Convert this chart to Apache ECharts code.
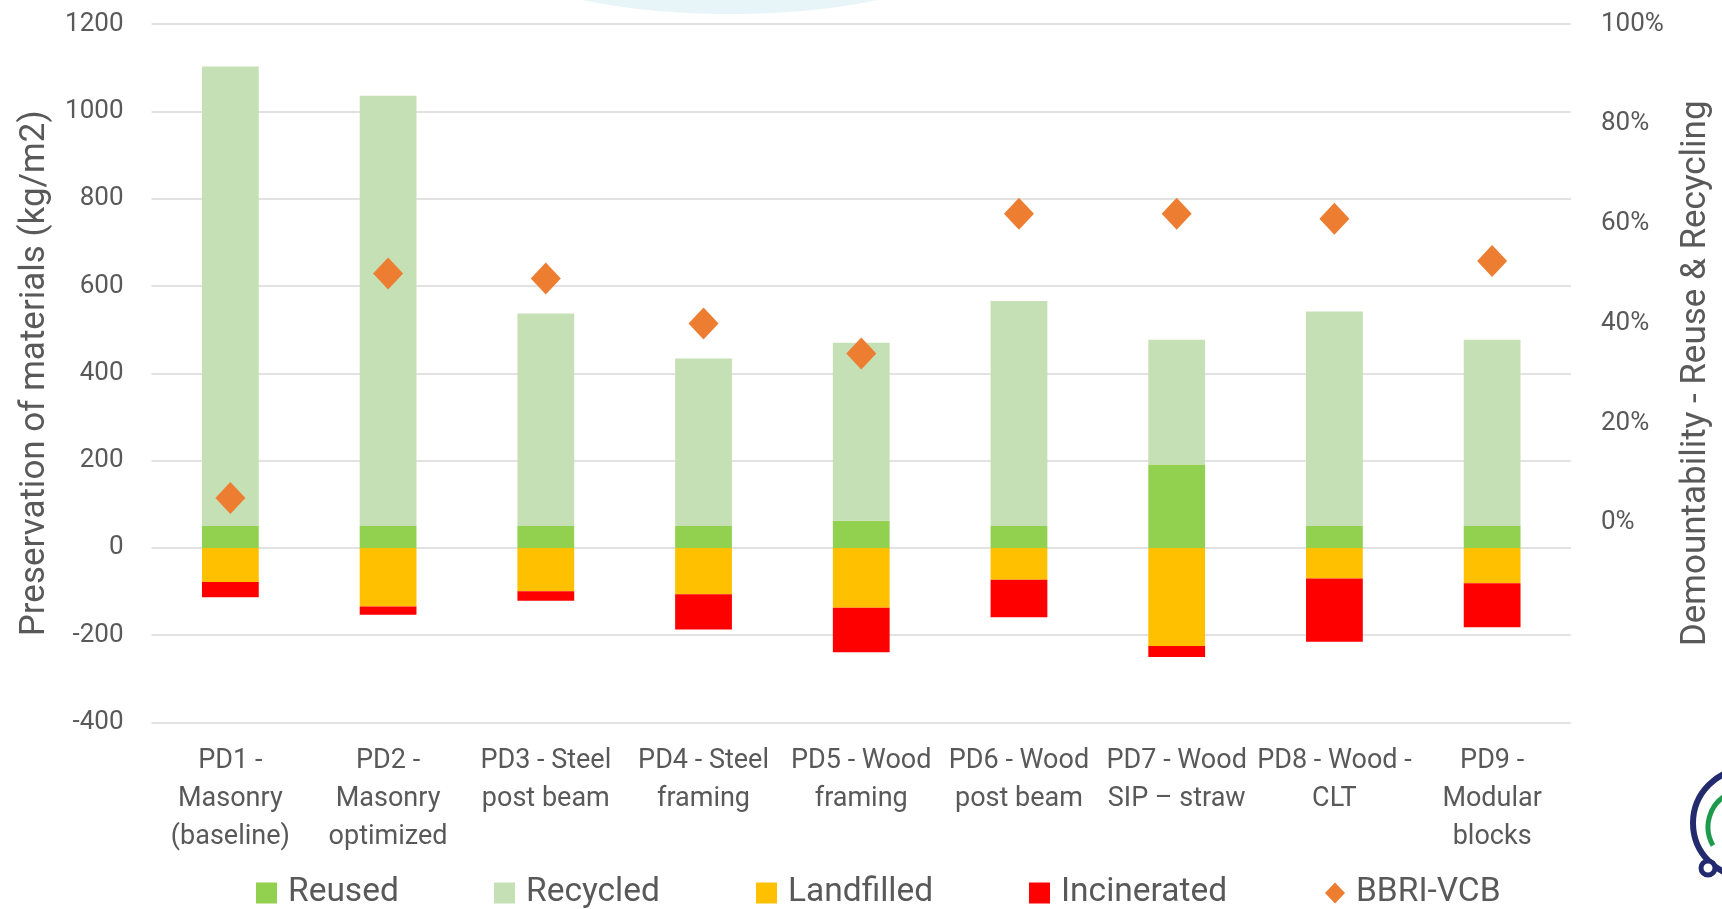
<!DOCTYPE html>
<html>
<head>
<meta charset="utf-8">
<title>Preservation of materials per design</title>
<script src="https://cdn.jsdelivr.net/npm/echarts@6/dist/echarts.min.js"></script>
<style>
  html, body { margin: 0; padding: 0; background: #ffffff; }
  #chart { width: 1722px; height: 909px; }
</style>
</head>
<body>
<div id="chart"></div>
<script>
// Building designs (x axis)
const categories = [
  'PD1 -\nMasonry\n(baseline)',
  'PD2 -\nMasonry\noptimized',
  'PD3 - Steel\npost beam',
  'PD4 - Steel\nframing',
  'PD5 - Wood\nframing',
  'PD6 - Wood\npost beam',
  'PD7 - Wood\nSIP \u2013 straw',
  'PD8 - Wood -\nCLT',
  'PD9 -\nModular\nblocks'
];

// End-of-life material flows, kg/m2 (landfill and incineration shown as negatives)
const reused      = [50, 50, 50, 50, 62, 50, 191, 50, 50];
const recycled    = [1053, 986, 487, 384, 408, 516, 286, 492, 427];
const landfilled  = [-78, -134, -99, -106, -137, -73, -225, -70, -81];
const incinerated = [-35, -19, -22, -81, -102, -86, -25, -145, -101];

// Demountability score (reuse & recycling), %
const bbriVcb = [5, 50, 49, 40, 34, 62, 62, 61, 52.5];

// Axis ticks
const leftTicks  = { min: -400, max: 1200, step: 200 };
const rightTicks = { min: -40, max: 100, step: 20 };

const seriesNames = ['Reused', 'Recycled', 'Landfilled', 'Incinerated', 'BBRI-VCB'];
const colors = {
  Reused: '#92D050',
  Recycled: '#C5E0B4',
  Landfilled: '#FFC000',
  Incinerated: '#FF0000',
  'BBRI-VCB': '#ED7D31'
};

const FONT = 'Roboto, "Noto Sans", sans-serif';
const TEXT = '#595959';

const chart = echarts.init(document.getElementById('chart'), null, { renderer: 'canvas' });

function barSeries(name, data) {
  return {
    name: name,
    type: 'bar',
    stack: 'flows',
    data: data,
    barWidth: '36%',
    itemStyle: { color: colors[name], opacity: 1 },
    emphasis: { disabled: true }
  };
}

// One legend block per entry so each sits at its own position on the baseline
const legendLefts = [256, 494, 756, 1029, 1325];
const legends = seriesNames.map((name, i) => ({
  data: [{ name: name, icon: name === 'BBRI-VCB' ? 'diamond' : 'rect' }],
  left: legendLefts[i],
  top: 876,
  padding: 0,
  itemWidth: name === 'BBRI-VCB' ? 20 : 21,
  itemHeight: 21,
  itemGap: 0,
  selectedMode: false,
  textStyle: { fontFamily: FONT, fontSize: 33.5, color: TEXT, padding: [0, 0, 0, 6] }
}));

const option = {
  animation: false,
  backgroundColor: '#ffffff',
  graphic: [
    {
      type: 'ellipse',
      silent: true,
      z: -10,
      shape: { cx: 730, cy: -46, rx: 230, ry: 60 },
      style: { fill: '#E8F5F8' }
    },
    {
      type: 'circle',
      silent: true,
      shape: { cx: 1747, cy: 823, r: 54 },
      style: { fill: 'none', stroke: '#232B6E', lineWidth: 6 }
    },
    {
      type: 'arc',
      silent: true,
      shape: { cx: 1745, cy: 827, r: 37, startAngle: Math.PI * 150 / 180, endAngle: Math.PI * 300 / 180, clockwise: true },
      style: { fill: 'none', stroke: '#1E9A4C', lineWidth: 5 }
    },
    {
      type: 'circle',
      silent: true,
      shape: { cx: 1708, cy: 868, r: 7 },
      style: { fill: '#ffffff', stroke: '#232B6E', lineWidth: 5 }
    }
  ],
  legend: legends,
  grid: {
    left: 151.5,
    right: 149.4,
    top: 24.2,
    bottom: 186.5
  },
  xAxis: {
    type: 'category',
    data: categories,
    axisLine: { show: false },
    axisTick: { show: false },
    axisLabel: {
      interval: 0,
      margin: 20,
      fontFamily: FONT,
      fontSize: 27,
      lineHeight: 38,
      color: TEXT
    }
  },
  yAxis: [
    {
      type: 'value',
      min: leftTicks.min,
      max: leftTicks.max,
      interval: leftTicks.step,
      name: 'Preservation of materials (kg/m2)',
      nameLocation: 'middle',
      nameRotate: 90,
      nameGap: 99,
      nameTextStyle: { fontFamily: FONT, fontSize: 35, color: TEXT },
      axisLine: { show: false },
      axisTick: { show: false },
      axisLabel: {
        margin: 28,
        fontFamily: FONT,
        fontSize: 26,
        color: TEXT,
        formatter: v => String(v)
      },
      splitLine: { lineStyle: { color: '#D9D9D9', width: 1.5 } }
    },
    {
      type: 'value',
      position: 'right',
      min: rightTicks.min,
      max: rightTicks.max,
      interval: rightTicks.step,
      name: 'Demountability - Reuse & Recycling',
      nameLocation: 'middle',
      nameRotate: 90,
      nameGap: 108,
      nameTextStyle: { fontFamily: FONT, fontSize: 35, color: TEXT },
      axisLine: { show: false },
      axisTick: { show: false },
      axisLabel: {
        margin: 30,
        fontFamily: FONT,
        fontSize: 26,
        color: TEXT,
        formatter: v => (v < 0 ? '' : Math.round(v) + '%')
      },
      splitLine: { show: false }
    }
  ],
  series: [
    barSeries('Reused', reused),
    barSeries('Recycled', recycled),
    barSeries('Landfilled', landfilled),
    barSeries('Incinerated', incinerated),
    {
      name: 'BBRI-VCB',
      type: 'scatter',
      yAxisIndex: 1,
      data: bbriVcb,
      symbol: 'diamond',
      symbolSize: [30, 32],
      itemStyle: { color: colors['BBRI-VCB'], opacity: 1 },
      z: 5,
      emphasis: { disabled: true }
    }
  ]
};

chart.setOption(option);
</script>
</body>
</html>
